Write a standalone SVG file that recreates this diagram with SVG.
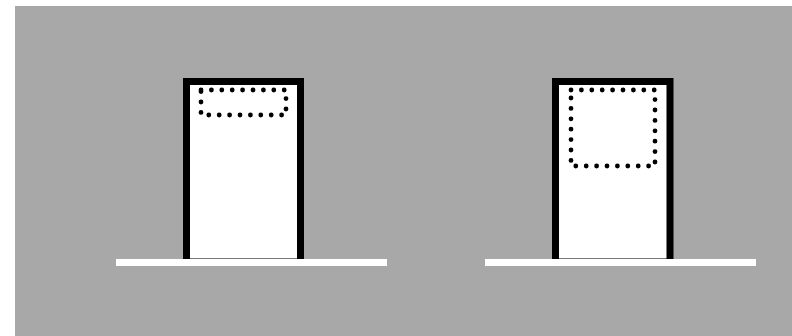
<svg xmlns="http://www.w3.org/2000/svg" width="792" height="336" viewBox="0 0 792 336">
<style>
.door{fill:#fff;stroke:none}
.frame{fill:none;stroke:#000;stroke-width:7}
.sill{fill:none;stroke:#777;stroke-width:1}
.floor{fill:#fff}
.dots{fill:none;stroke:#000;stroke-width:4.8;stroke-linecap:round;stroke-dasharray:0 10.4}
</style>
<rect x="0" y="0" width="792" height="336" fill="#fff"/>
<rect x="15" y="6" width="777" height="330" fill="#a8a8a8"/>
<g id="door-left">
<rect class="door" x="183" y="78" width="121" height="181"/>
<line class="sill" x1="190" y1="258.5" x2="298" y2="258.5"/>
<path class="frame" d="M186.5 259 V81.5 H300.5 V259"/>
<rect class="dots" x="201" y="90" width="85" height="25"/>
<rect class="floor" x="116" y="259" width="271" height="7"/>
</g>
<g id="door-right">
<rect class="door" x="552" y="78" width="121" height="181"/>
<line class="sill" x1="559" y1="258.5" x2="667" y2="258.5"/>
<path class="frame" d="M555.5 259 V81.5 H670 V259"/>
<rect class="dots" x="571" y="90" width="84" height="76"/>
<rect class="floor" x="485" y="259" width="271" height="7"/>
</g>
<g id="connectors"/>
</svg>
